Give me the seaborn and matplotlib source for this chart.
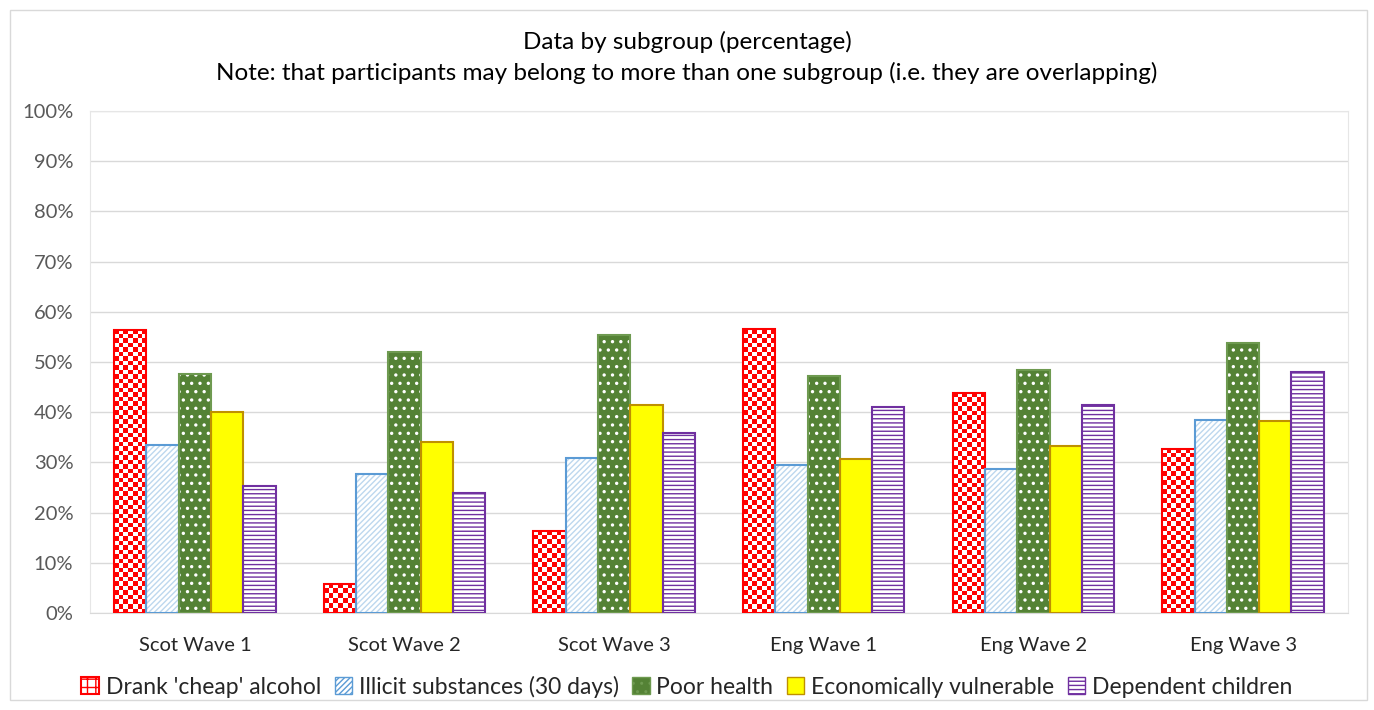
import matplotlib
matplotlib.use("Agg")
import matplotlib.pyplot as plt
import matplotlib.patches as mpatches
from matplotlib.colors import ListedColormap
from matplotlib.ticker import PercentFormatter
import numpy as np
import pandas as pd
import seaborn as sns

# values (percent)
waves = ["Scot Wave 1", "Scot Wave 2", "Scot Wave 3", "Eng Wave 1", "Eng Wave 2", "Eng Wave 3"]
series = ["Drank 'cheap' alcohol", "Illicit substances (30 days)", "Poor health",
          "Economically vulnerable", "Dependent children"]
cheap_alcohol = [56.4, 5.8, 16.4, 56.5, 43.8, 32.7]
illicit = [33.5, 27.6, 30.9, 29.5, 28.7, 38.4]
poor_health = [47.7, 51.9, 55.3, 47.2, 48.4, 53.8]
econ_vulnerable = [40.1, 34.1, 41.4, 30.6, 33.2, 38.3]
dependent_children = [25.3, 24.0, 35.9, 41.1, 41.4, 48.0]

# face, hatch colour, hatch, outline
styles = [
    ("white", "#FF0000", "", "#FF0000"),
    ("white", "#BDD7EE", "//////", "#5B9BD5"),
    ("#548235", "white", "..", "#6E9A50"),
    ("#FFFF00", "#BF9000", "", "#BF9000"),
    ("white", "#7030A0", "----", "#7030A0"),
]

rows = []
for name, vals in zip(series, [cheap_alcohol, illicit, poor_health, econ_vulnerable, dependent_children]):
    for w, v in zip(waves, vals):
        rows.append({"wave": w, "series": name, "value": v})
df = pd.DataFrame(rows)

sns.set_style("white")
plt.rcParams["font.family"] = ["Lato", "DejaVu Sans"]

fig = plt.figure(figsize=(13.74, 7.10), dpi=100)
ax = fig.add_axes([0.0655, 0.1366, 0.9155, 0.7071])

sns.barplot(data=df, x="wave", y="value", hue="series", order=waves, hue_order=series,
            palette=[s[3] for s in styles],
            width=0.77, gap=0, errorbar=None, ax=ax, legend=False, zorder=3)

ax.set_ylim(0, 100)
ax.set_xlim(-0.5, len(waves) - 0.5)

checker = ListedColormap(["white", "#FF0000"])
for i, (cont, (face, hcol, hatch, edge)) in enumerate(zip(ax.containers, styles)):
    for bar in cont:
        bar.set_facecolor(face)
        bar.set_edgecolor(hcol)
        bar.set_hatch(hatch)
        bar.set_linewidth(0)
        bar.set_hatch_linewidth(1.0 if hatch != ".." else 1.2)
        x0, y0 = bar.get_xy()
        w, h = bar.get_width(), bar.get_height()
        if i == 0:
            # checkerboard fill, cells about 4.5 px
            nx = max(1, int(round(w / 0.0215)))
            ny = max(1, int(round(h / 0.9)))
            grid = (np.add.outer(np.arange(ny), np.arange(nx)) % 2 == 0).astype(int)
            ax.imshow(grid, cmap=checker, extent=[x0, x0 + w, y0, y0 + h], origin="lower",
                      aspect="auto", interpolation="nearest", zorder=3.5, vmin=0, vmax=1)
        ax.add_patch(mpatches.Rectangle((x0, y0), w, h, fill=False, edgecolor=edge,
                                        linewidth=1.5, zorder=4))

ax.set_ylim(0, 100)
ax.set_xlim(-0.5, len(waves) - 0.5)
ax.set_aspect("auto")
ax.set_yticks(range(0, 101, 10))
ax.yaxis.set_major_formatter(PercentFormatter(decimals=0))
ax.grid(axis="y", color="#D9D9D9", linewidth=1, zorder=0)
ax.set_xlabel("")
ax.set_ylabel("")
ax.tick_params(axis="y", length=0, labelsize=14.5, labelcolor="#595959", pad=12)
ax.tick_params(axis="x", length=0, labelsize=14.5, labelcolor="#262626", pad=17)
for side in ["left", "top", "right"]:
    ax.spines[side].set_color("#E6E6E6")
ax.spines["bottom"].set_color("#D9D9D9")

fig.text(0.5, 0.941, "Data by subgroup (percentage)", ha="center", va="center", fontsize=17.5, color="#000000")
fig.text(0.5, 0.897,
         "Note: that participants may belong to more than one subgroup (i.e. they are overlapping)",
         ha="center", va="center", fontsize=17.5, color="#000000")

handles = []
for name, (face, hcol, hatch, edge) in zip(series, styles):
    if name == series[0]:
        p = mpatches.Patch(facecolor="white", edgecolor="#FF0000", hatch="++", label=name, linewidth=1.5)
    else:
        p = mpatches.Patch(facecolor=face, edgecolor=edge, hatch=hatch, label=name, linewidth=1)
    handles.append(p)
fig.legend(handles=handles, loc="center", bbox_to_anchor=(0.5, 0.033), ncol=5, frameon=False,
           fontsize=16.5, handlelength=0.75, handleheight=0.75, handletextpad=0.3, columnspacing=0.6)

fig.patches.append(mpatches.Rectangle((10 / 1374, 10 / 710), 1357 / 1374, 690 / 710,
                                      transform=fig.transFigure, fill=False,
                                      edgecolor="#D9D9D9", linewidth=1))

fig.savefig("out.png", dpi=100)
